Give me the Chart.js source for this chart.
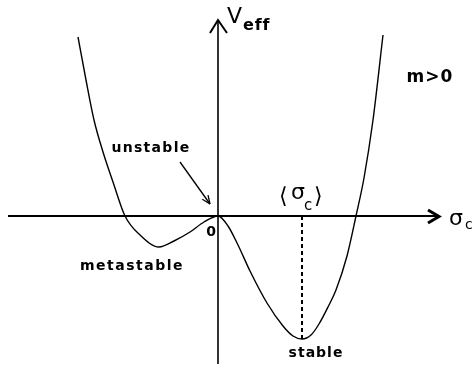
<!DOCTYPE html>
<html>
<head>
<meta charset="utf-8">
<script src="https://cdn.jsdelivr.net/npm/chart.js@4"></script>
<style>
  html, body { margin: 0; padding: 0; background: #fff; }
  #c { display: block; }
</style>
</head>
<body>
<canvas id="c" width="473" height="368"></canvas>
<script>
// Effective potential V_eff(σ_c) for m > 0: metastable minimum on the left,
// unstable stationary point at the origin, stable minimum at <σ_c>.
const sigma = [-14.0, -13.2, -12.4, -11.5, -10.5, -9.3, -7.8, -5.9, -4.4, -2.8, -1.4, 0.0,
               1.0, 2.0, 3.2, 4.9, 6.5, 7.5, 8.4, 9.3, 10.1, 11.0, 11.8, 12.9, 13.8, 14.6, 15.5, 16.5];
const vEff  = [17.9, 13.6, 9.6, 6.4, 3.4, 0.0, -1.9, -3.1, -2.5, -1.6, -0.6, 0.0,
               -1.0, -2.9, -5.5, -8.7, -11.0, -12.0, -12.3, -11.9, -10.8, -9.1, -7.4, -4.0, 0.0, 3.8, 9.6, 18.1];

// Position of the stable minimum <σ_c>
const stableSigma = [8.4, 8.4];
const stableV = [0.0, -12.3];

const curve = sigma.map((s, i) => ({ x: s, y: vEff[i] }));
const dropLine = stableSigma.map((s, i) => ({ x: s, y: stableV[i] }));

const FONT = '"DejaVu Sans", sans-serif';

const axesAndLabels = {
  id: 'axesAndLabels',
  afterDatasetsDraw(chart) {
    const ctx = chart.ctx;
    const xs = chart.scales.x, ys = chart.scales.y;
    const px = v => xs.getPixelForValue(v);
    const py = v => ys.getPixelForValue(v);
    const x0 = px(0), y0 = py(0);

    ctx.save();
    ctx.strokeStyle = '#000';
    ctx.fillStyle = '#000';
    ctx.lineCap = 'butt';

    // horizontal σ_c axis
    ctx.lineWidth = 2.2;
    ctx.beginPath();
    ctx.moveTo(px(-21.0), y0);
    ctx.lineTo(px(22.0), y0);
    ctx.stroke();
    ctx.lineWidth = 3;
    ctx.lineJoin = 'miter';
    ctx.beginPath();
    ctx.moveTo(px(21.0), y0 - 6);
    ctx.lineTo(px(22.1), y0 + 0.5);
    ctx.lineTo(px(21.0), y0 + 7);
    ctx.stroke();

    // vertical V_eff axis
    ctx.lineWidth = 1.6;
    ctx.beginPath();
    ctx.moveTo(x0, py(-14.8));
    ctx.lineTo(x0, py(19.6));
    ctx.stroke();
    ctx.lineWidth = 2;
    ctx.beginPath();
    ctx.moveTo(x0 - 8, py(19.6) + 13);
    ctx.lineTo(x0, py(19.6));
    ctx.lineTo(x0 + 9, py(19.6) + 13);
    ctx.stroke();

    // pointer to the unstable point
    const ax1 = px(-3.8), ay1 = py(5.4), ax2 = px(-0.8), ay2 = py(1.2);
    ctx.lineWidth = 1.3;
    ctx.beginPath();
    ctx.moveTo(ax1, ay1);
    ctx.lineTo(ax2, ay2);
    ctx.stroke();
    const ang = Math.atan2(ay2 - ay1, ax2 - ax1);
    ctx.beginPath();
    ctx.moveTo(ax2, ay2);
    ctx.lineTo(ax2 - 9 * Math.cos(ang - 0.4), ay2 - 9 * Math.sin(ang - 0.4));
    ctx.moveTo(ax2, ay2);
    ctx.lineTo(ax2 - 9 * Math.cos(ang + 0.4), ay2 - 9 * Math.sin(ang + 0.4));
    ctx.stroke();

    // text
    ctx.textBaseline = 'alphabetic';
    const txt = (s, x, y, size, weight, align, spacing) => {
      ctx.font = `${weight} ${size}px ${FONT}`;
      ctx.textAlign = align || 'left';
      ctx.letterSpacing = (spacing || 0) + 'px';
      ctx.fillText(s, x, y);
    };

    // V_eff
    txt('V', x0 + 9, py(19.3), 22, 'normal', 'left');
    txt('eff', x0 + 25, py(18.6), 16, 'bold', 'left', 0.8);

    txt('m>0', px(21.2), py(13.4), 17, 'bold', 'center', 1);
    txt('unstable', px(-6.7), py(6.4), 14, 'bold', 'center', 1.3);
    txt('0', px(-0.7), py(-2.0), 14, 'bold', 'center');
    txt('metastable', px(-8.6), py(-5.4), 14, 'bold', 'center', 1.5);
    txt('stable', px(9.8), py(-14.1), 14, 'bold', 'center', 1.0);

    // <σ_c> above the dashed line
    const bx = px(8.4);
    txt('⟨', bx - 23, py(1.3), 22, 'normal', 'left');
    txt('σ', bx - 11, py(1.7), 22, 'normal', 'left');
    txt('c', bx + 2, py(0.6), 15, 'normal', 'left');
    txt('⟩', bx + 12, py(1.3), 22, 'normal', 'left');

    // axis label σ_c
    txt('σ', px(23.1), py(-0.9), 22, 'normal', 'left');
    txt('c', px(24.7), py(-1.3), 14, 'normal', 'left');

    ctx.restore();
  }
};

new Chart(document.getElementById('c'), {
  type: 'scatter',
  data: {
    datasets: [
      {
        data: curve,
        showLine: true,
        borderColor: '#000',
        borderWidth: 1.4,
        pointRadius: 0,
        cubicInterpolationMode: 'monotone',
        fill: false
      },
      {
        data: dropLine,
        showLine: true,
        borderColor: '#000',
        borderWidth: 2,
        borderDash: [4, 3],
        pointRadius: 0,
        fill: false
      }
    ]
  },
  options: {
    responsive: false,
    animation: false,
    layout: { padding: 0 },
    plugins: { legend: { display: false }, tooltip: { enabled: false } },
    scales: {
      x: { type: 'linear', display: false, min: -21.8, max: 25.5 },
      y: { type: 'linear', display: false, min: -15.2, max: 21.6 }
    }
  },
  plugins: [axesAndLabels]
});
</script>
</body>
</html>
